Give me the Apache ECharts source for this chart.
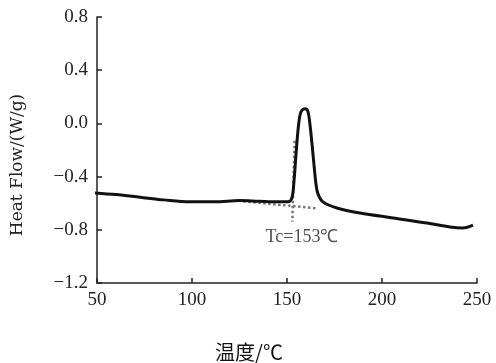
<!DOCTYPE html>
<html>
<head>
<meta charset="utf-8">
<script src="https://cdn.jsdelivr.net/npm/echarts@6/dist/echarts.min.js"></script>
<style>html,body{margin:0;padding:0;background:#fff;}#c{width:496px;height:363px;}</style>
</head>
<body>
<div id="c"></div>
<script>
// DSC curve (temperature, heat flow)
var temps = [46.5, 60, 72.6, 85, 99, 112, 125, 135, 145, 150.5, 152.6, 153.7, 154.7, 155.8, 156.8, 157.9, 159.5, 161, 162.1, 163.2, 164.2, 165.3, 166.3, 168.9, 176.3, 188.4, 205.8, 223.7, 235.8, 242.6, 247.9];
var heatFlow = [-0.52, -0.535, -0.555, -0.575, -0.59, -0.59, -0.58, -0.585, -0.59, -0.59, -0.56, -0.43, -0.24, -0.05, 0.06, 0.10, 0.11, 0.09, -0.01, -0.16, -0.31, -0.46, -0.53, -0.59, -0.636, -0.674, -0.711, -0.749, -0.779, -0.786, -0.764];
// tangent construction (dotted)
var baseX = [127, 166];
var baseY = [-0.585, -0.64];
var tanX = [154.0, 152.8];
var tanY = [-0.13, -0.74];
var xTicks = [50, 100, 150, 200, 250];
var yTicks = [-1.2, -0.8, -0.4, 0.0, 0.4, 0.8];
var tcLabel = 'Tc=153℃';
var tcPos = [157.9, -0.855];

var curve = temps.map(function (t, i) { return [t, heatFlow[i]]; });
var base = baseX.map(function (t, i) { return [t, baseY[i]]; });
var tan = tanX.map(function (t, i) { return [t, tanY[i]]; });

var chart = echarts.init(document.getElementById('c'));
var serif = '"Liberation Serif", "Times New Roman", serif';
chart.setOption({
  animation: false,
  grid: { left: 97, right: 19, top: 17, bottom: 80 },
  xAxis: {
    type: 'value', min: 50, max: 250, interval: 50,
    axisLine: { show: true, onZero: false, lineStyle: { color: '#222', width: 1.5 } },
    axisTick: { show: true, inside: true, length: 5, lineStyle: { color: '#222', width: 1.5 } },
    axisLabel: { color: '#222', fontFamily: serif, fontSize: 19, margin: 8,
      formatter: function (v) { return String(v); } },
    splitLine: { show: false }
  },
  yAxis: {
    type: 'value', min: -1.2, max: 0.8, interval: 0.4,
    axisLine: { show: true, onZero: false, lineStyle: { color: '#222', width: 1.5 } },
    axisTick: { show: true, inside: true, length: 5, lineStyle: { color: '#222', width: 1.5 } },
    axisLabel: { color: '#222', fontFamily: serif, fontSize: 19, margin: 9,
      formatter: function (v) {
        var s = v.toFixed(1);
        return s.replace('-', '\u2212');
      } },
    splitLine: { show: false }
  },
  graphic: [
    { type: 'text', x: 18, y: 165, rotation: Math.PI / 2,
      style: { text: 'Heat Flow/(W/g)', fill: '#222', font: '17px "DejaVu Serif", serif', align: 'center', verticalAlign: 'middle' } },
    { type: 'text', x: 249, y: 352,
      style: { text: '温度/℃', fill: '#111', font: '20px "Noto Sans CJK SC", sans-serif', align: 'center', verticalAlign: 'middle' } }
  ],
  series: [
    { type: 'line', data: base, symbol: 'none', z: 1,
      lineStyle: { color: '#777', width: 2.5, type: [2.5, 2.5] } },
    { type: 'line', data: tan, symbol: 'none', z: 1,
      lineStyle: { color: '#777', width: 2.5, type: [2.5, 2.5] } },
    { type: 'line', data: curve, symbol: 'none', smooth: 0.35, z: 3,
      lineStyle: { color: '#111', width: 3 } },
    { type: 'scatter', data: [tcPos], symbolSize: 0, z: 4,
      label: { show: true, position: 'inside', formatter: tcLabel, color: '#222', fontFamily: serif, fontSize: 18 } }
  ]
});
</script>
</body>
</html>
